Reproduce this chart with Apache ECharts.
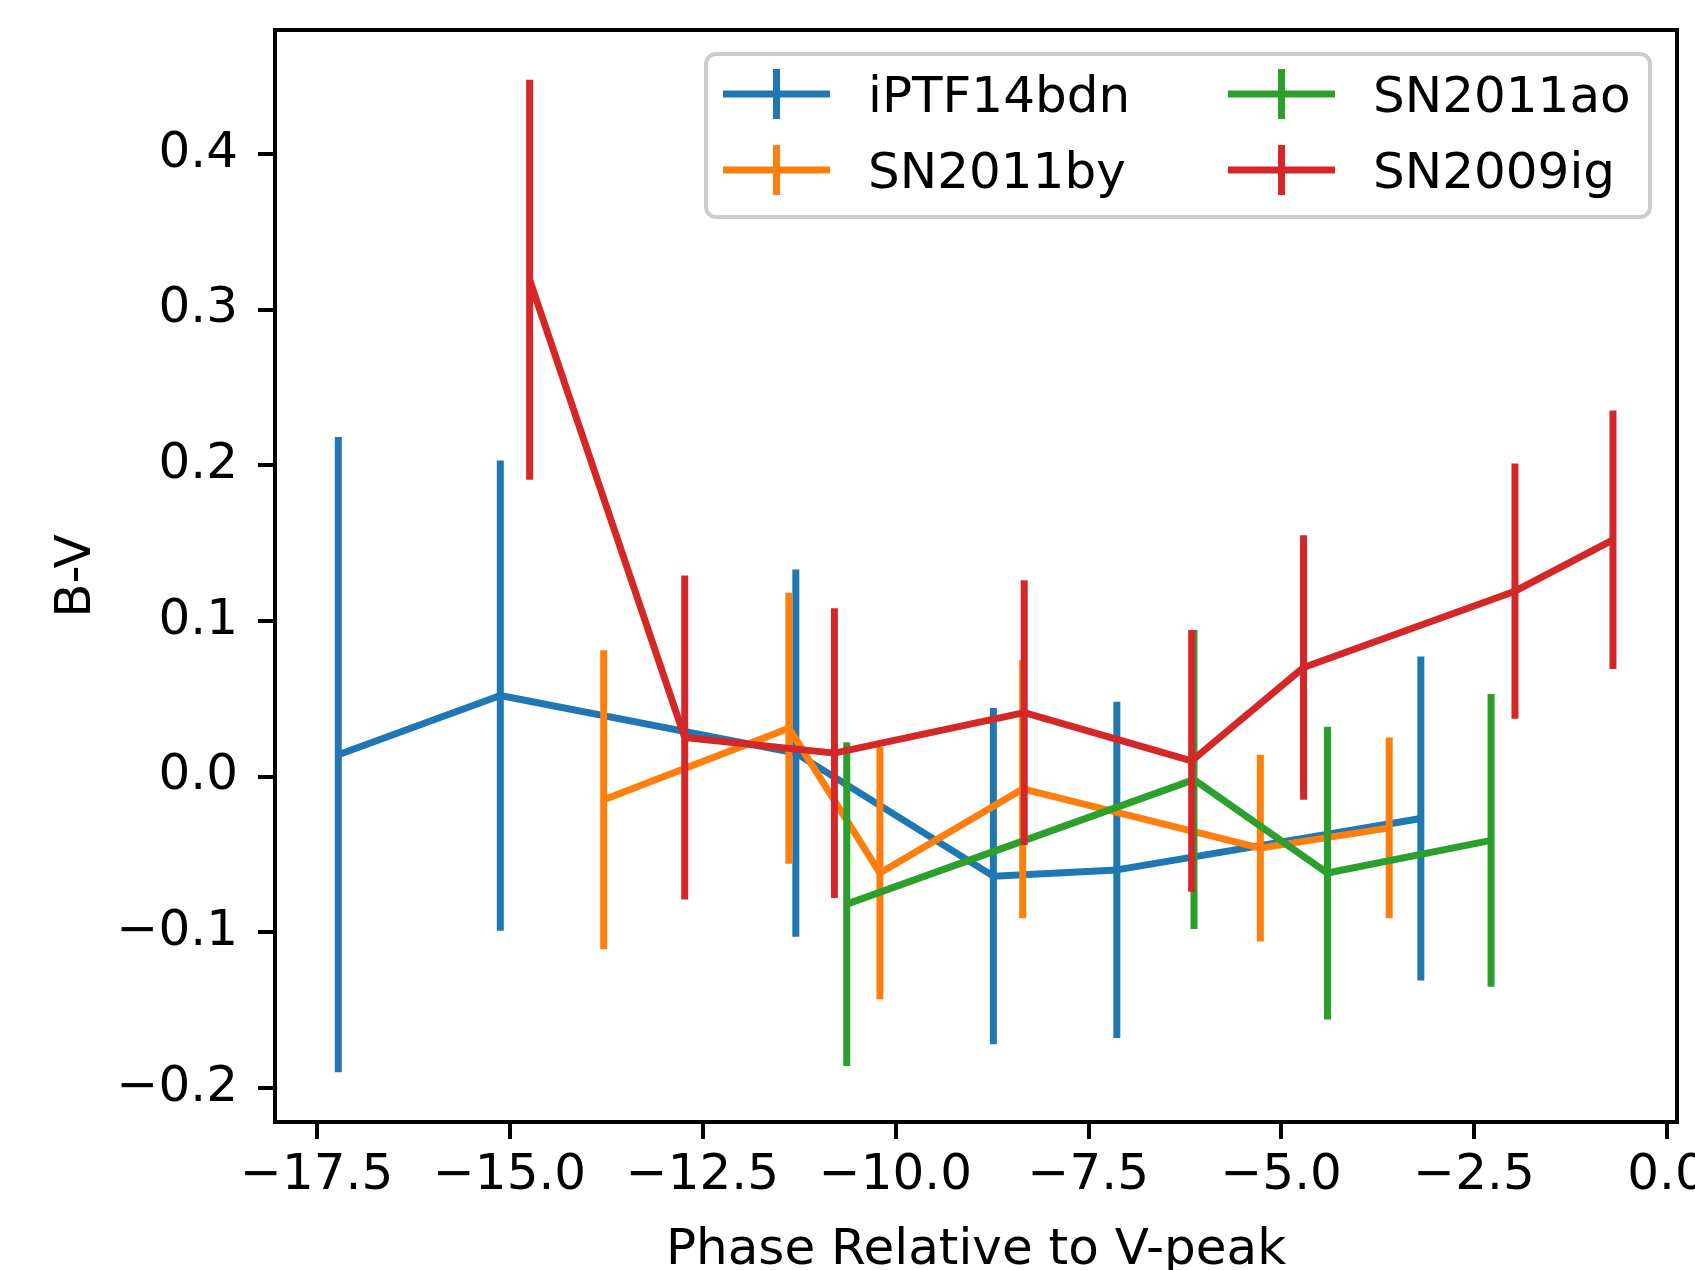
<!DOCTYPE html>
<html>
<head>
<meta charset="utf-8">
<script src="https://cdn.jsdelivr.net/npm/echarts@6/dist/echarts.min.js"></script>
<style>
  html, body {margin: 0; padding: 0; background: #fff;}
  #chart {width: 1695px; height: 1270px;}
</style>
</head>
<body>
<div id="chart"></div>
<script>
const FONT = "DejaVu Sans";

// phase, B-V and 1-sigma error
const iptfPhase = [-17.22, -15.12, -11.29, -8.73, -7.13, -3.19];
const iptfColor = [0.014, 0.052, 0.015, -0.064, -0.060, -0.027];
const iptfErr = [0.204, 0.151, 0.118, 0.108, 0.108, 0.104];

const by11Phase = [-13.78, -11.38, -10.20, -8.35, -5.27, -3.60];
const by11Color = [-0.015, 0.031, -0.062, -0.008, -0.046, -0.033];
const by11Err = [0.096, 0.087, 0.081, 0.083, 0.060, 0.058];

const ao11Phase = [-10.63, -6.13, -4.40, -2.28];
const ao11Color = [-0.082, -0.002, -0.062, -0.041];
const ao11Err = [0.104, 0.096, 0.094, 0.094];

const ig09Phase = [-14.74, -12.73, -10.79, -8.33, -6.16, -4.71, -1.97, -0.70];
const ig09Color = [0.319, 0.025, 0.015, 0.041, 0.010, 0.070, 0.119, 0.152];
const ig09Err = [0.1285, 0.104, 0.093, 0.085, 0.084, 0.085, 0.082, 0.083];

const xTicks = [-17.5, -15.0, -12.5, -10.0, -7.5, -5.0, -2.5, 0.0];
const yTicks = [-0.2, -0.1, 0.0, 0.1, 0.2, 0.3, 0.4];

const sets = [
  {name: "iPTF14bdn", color: "#1f77b4", phase: iptfPhase, value: iptfColor, err: iptfErr},
  {name: "SN2011by", color: "#ff7f0e", phase: by11Phase, value: by11Color, err: by11Err},
  {name: "SN2011ao", color: "#2ca02c", phase: ao11Phase, value: ao11Color, err: ao11Err},
  {name: "SN2009ig", color: "#d62728", phase: ig09Phase, value: ig09Color, err: ig09Err},
];

const fmt = (v) => (v < -1e-9 ? "\u2212" : "") + Math.abs(v).toFixed(1);

const series = [];
sets.forEach((s, i) => {
  series.push({
    name: s.name,
    type: "line",
    z: 2 + i * 2,
    data: s.phase.map((x, k) => [x, s.value[k]]),
    showSymbol: false,
    symbol: "none",
    color: s.color,
    lineStyle: {width: 7, color: s.color, join: "round"},
  });
  series.push({
    name: s.name,
    type: "custom",
    z: 3 + i * 2,
    data: s.phase.map((x, k) => [x, s.value[k] - s.err[k], s.value[k] + s.err[k]]),
    encode: {x: 0, y: [1, 2]},
    color: s.color,
    renderItem: (params, api) => {
      const lo = api.coord([api.value(0), api.value(1)]);
      const hi = api.coord([api.value(0), api.value(2)]);
      return {
        type: "line",
        shape: {x1: lo[0], y1: lo[1], x2: hi[0], y2: hi[1]},
        style: {stroke: s.color, lineWidth: 7},
      };
    },
  });
});

const legendIcon = "path://M0,21.5H107V28.5H0Z M50,0H57V50H50Z";
const legendBase = {
  orient: "vertical",
  top: 69,
  padding: 0,
  itemGap: 21,
  itemWidth: 107,
  itemHeight: 50,
  icon: legendIcon,
  itemStyle: {borderWidth: 0},
  formatter: "{t|{name}}",
  textStyle: {
    fontFamily: FONT, fontSize: 50, color: "#000", padding: [0, 0, 0, 33],
    rich: {t: {fontFamily: FONT, fontSize: 50, color: "#000", padding: [10, 0, 0, 0]}},
  },
  selectedMode: false,
  z: 20,
};

const axisLine = {show: true, onZero: false, lineStyle: {color: "#000", width: 4}};

const chart = echarts.init(document.getElementById("chart"), null, {renderer: "canvas"});
chart.setOption({
  animation: false,
  backgroundColor: "#fff",
  grid: {
    left: 275, right: 18, top: 30, bottom: 148,
    outerBoundsMode: "none",
    containLabel: false,
    show: true, borderColor: "#000", borderWidth: 4, backgroundColor: "transparent",
  },
  xAxis: {
    type: "value",
    min: -18.04,
    max: 0.13,
    name: "Phase Relative to V-peak",
    nameLocation: "middle",
    nameGap: 104,
    nameTextStyle: {fontFamily: FONT, fontSize: 50, color: "#000"},
    axisLine: axisLine,
    splitLine: {show: false},
    axisTick: {show: true, length: 17, lineStyle: {color: "#000", width: 4}, customValues: xTicks},
    axisLabel: {fontFamily: FONT, fontSize: 50, color: "#000", margin: 29, customValues: xTicks, formatter: fmt},
  },
  yAxis: {
    type: "value",
    min: -0.2219,
    max: 0.4794,
    name: "B-V",
    nameLocation: "middle",
    nameGap: 173,
    nameTextStyle: {fontFamily: FONT, fontSize: 50, color: "#000"},
    axisLine: axisLine,
    splitLine: {show: false},
    axisTick: {show: true, length: 17, lineStyle: {color: "#000", width: 4}, customValues: yTicks},
    axisLabel: {fontFamily: FONT, fontSize: 50, color: "#000", margin: 37, customValues: yTicks, formatter: fmt},
  },
  legend: [
    Object.assign({}, legendBase, {left: 723, data: ["iPTF14bdn", "SN2011by"]}),
    Object.assign({}, legendBase, {left: 1228, data: ["SN2011ao", "SN2009ig"]}),
  ],
  graphic: [{
    type: "rect",
    z: 15,
    shape: {x: 706, y: 54, width: 944, height: 163, r: 10},
    style: {fill: "rgba(255,255,255,0.8)", stroke: "#cccccc", lineWidth: 4},
  }],
  series: series,
});
</script>
</body>
</html>
